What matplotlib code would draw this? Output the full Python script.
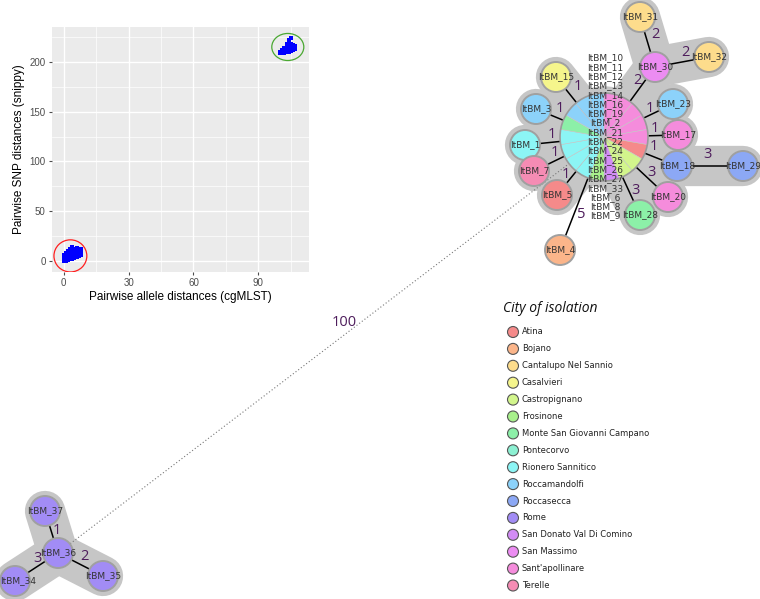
import matplotlib
matplotlib.use("Agg")
import matplotlib.pyplot as plt
from matplotlib.patches import Circle, Wedge, Ellipse

# ---- scatter inset data (pairwise distances) ----
allele_low = [0, 0, 0, 0, 0, 0, 0, 1, 1, 1, 1, 1, 1, 1, 1, 1,
              2, 2, 2, 2, 2, 2, 2, 2, 2, 2, 3, 3, 3, 3, 3, 3, 3, 3, 3, 3, 3,
              4, 4, 4, 4, 4, 4, 4, 4, 4, 4, 4, 4, 5, 5, 5, 5, 5, 5, 5, 5, 5,
              6, 6, 6, 6, 6, 6, 6, 6, 6, 7, 7, 7, 7, 7, 7, 7, 8, 8, 8, 8]
snp_low = [0, 1, 2, 3, 4, 5, 6, 0, 1, 2, 3, 4, 5, 6, 7, 8,
           1, 2, 3, 4, 5, 6, 7, 8, 9, 10, 2, 3, 4, 5, 6, 7, 8, 9, 10, 11, 12,
           2, 3, 4, 5, 6, 7, 8, 9, 10, 11, 13, 14, 3, 4, 5, 6, 7, 8, 9, 10, 12,
           4, 5, 6, 7, 8, 9, 10, 11, 13, 5, 6, 7, 8, 9, 11, 12, 6, 8, 10, 12]
allele_high = [100, 100, 101, 101, 101, 101, 102, 102, 102, 102, 102, 102,
               103, 103, 103, 103, 103, 103, 103, 103, 104, 104, 104, 104, 104, 104, 104, 104,
               105, 105, 105, 105, 105, 105, 106, 106, 106, 106, 107, 107]
snp_high = [209, 210, 209, 210, 211, 212, 209, 210, 211, 212, 213, 214,
            210, 211, 212, 213, 214, 215, 216, 218, 210, 212, 213, 214, 216, 217, 220, 222,
            211, 212, 214, 215, 218, 224, 212, 213, 215, 217, 213, 216]

# ---- minimum spanning tree data ----
cities = ["Atina", "Bojano", "Cantalupo Nel Sannio", "Casalvieri", "Castropignano",
          "Frosinone", "Monte San Giovanni Campano", "Pontecorvo", "Rionero Sannitico",
          "Roccamandolfi", "Roccasecca", "Rome", "San Donato Val Di Comino",
          "San Massimo", "Sant'apollinare", "Terelle"]
city_colors = ["#f58a8a", "#fbb58a", "#fddc8c", "#f5f58c", "#d2f58c", "#a8f08c",
               "#8cf0a8", "#8cf0d2", "#8cf5f5", "#8cd2fa", "#8ca8f5", "#a28cf5",
               "#d28cf5", "#ec8cf2", "#f58cdc", "#f58cb4"]

hub_isolates = ["ItBM_10", "ItBM_11", "ItBM_12", "ItBM_13", "ItBM_14", "ItBM_16",
                "ItBM_19", "ItBM_2", "ItBM_21", "ItBM_22", "ItBM_24", "ItBM_25",
                "ItBM_26", "ItBM_27", "ItBM_33", "ItBM_6", "ItBM_8", "ItBM_9"]
hub_slices = ["Sant'apollinare"] * 5 + ["Atina"] + ["Castropignano"] * 2 + \
             ["San Donato Val Di Comino", "Frosinone"] + ["Rionero Sannitico"] * 4 + \
             ["Monte San Giovanni Campano"] + ["Roccamandolfi"] * 3

node_city = {
    "ItBM_15": "Casalvieri", "ItBM_3": "Roccamandolfi", "ItBM_1": "Rionero Sannitico",
    "ItBM_7": "Terelle", "ItBM_5": "Atina", "ItBM_4": "Bojano",
    "ItBM_28": "Monte San Giovanni Campano", "ItBM_20": "Sant'apollinare",
    "ItBM_18": "Roccasecca", "ItBM_29": "Roccasecca", "ItBM_17": "Sant'apollinare",
    "ItBM_23": "Roccamandolfi", "ItBM_30": "San Massimo",
    "ItBM_31": "Cantalupo Nel Sannio", "ItBM_32": "Cantalupo Nel Sannio",
    "ItBM_36": "Rome", "ItBM_37": "Rome", "ItBM_34": "Rome", "ItBM_35": "Rome",
}

edges = [("hub", "ItBM_15", 1), ("hub", "ItBM_3", 1), ("hub", "ItBM_1", 1),
         ("hub", "ItBM_7", 1), ("hub", "ItBM_5", 1), ("hub", "ItBM_4", 5),
         ("hub", "ItBM_28", 3), ("hub", "ItBM_20", 3), ("hub", "ItBM_18", 1),
         ("ItBM_18", "ItBM_29", 3), ("hub", "ItBM_17", 1), ("hub", "ItBM_23", 1),
         ("hub", "ItBM_30", 2), ("ItBM_30", "ItBM_31", 2), ("ItBM_30", "ItBM_32", 2),
         ("ItBM_36", "ItBM_37", 1), ("ItBM_36", "ItBM_34", 3), ("ItBM_36", "ItBM_35", 2),
         ("hub", "ItBM_36", 100)]

# ---- layout (pixel space, y downward) ----
pos = {"hub": (604, 137), "ItBM_15": (556, 77), "ItBM_3": (536, 109),
       "ItBM_1": (525, 145), "ItBM_7": (534, 171), "ItBM_5": (557, 195),
       "ItBM_4": (560, 250), "ItBM_28": (640, 215), "ItBM_20": (668, 197),
       "ItBM_18": (677, 166), "ItBM_29": (743, 166), "ItBM_17": (678, 135),
       "ItBM_23": (673, 104), "ItBM_30": (655, 67), "ItBM_31": (640, 17),
       "ItBM_32": (709, 57), "ItBM_36": (58, 553), "ItBM_37": (45, 511),
       "ItBM_34": (15, 581), "ItBM_35": (103, 576)}
label_pos = {"ItBM_15": (578, 87), "ItBM_3": (560, 108), "ItBM_1": (552, 134),
             "ItBM_7": (555, 153), "ItBM_5": (566, 175), "ItBM_4": (581, 215),
             "ItBM_28": (635, 190), "ItBM_20": (652, 173), "ItBM_18": (654, 147),
             "ItBM_29": (707, 155), "ItBM_17": (655, 128), "ItBM_23": (650, 108),
             "ItBM_30": (637, 80), "ItBM_31": (655, 35), "ItBM_32": (685, 52),
             "ItBM_37": (57, 531), "ItBM_34": (37, 559), "ItBM_35": (84, 557),
             "ItBM_36": (344, 322)}
node_r = 15
hub_r = 44
shade_max = 3
color_of = dict(zip(cities, city_colors))

fig = plt.figure(figsize=(7.6, 5.99), dpi=100)
ax = fig.add_axes([0, 0, 1, 1])
ax.set_xlim(0, 760)
ax.set_ylim(599, 0)
ax.axis("off")

shade = "#c6c6c6"
for a, b, d in edges:
    (x1, y1), (x2, y2) = pos[a], pos[b]
    if d <= shade_max:
        ax.plot([x1, x2], [y1, y2], color=shade, lw=29, solid_capstyle="round", zorder=1)
        ax.plot([x1, x2], [y1, y2], color="black", lw=1.1, zorder=2)
    elif d < 50:
        ax.plot([x1, x2], [y1, y2], color="black", lw=1.1, zorder=2)
    else:
        ax.plot([x1, x2], [y1, y2], color="#777777", lw=0.8, ls=(0, (1, 2)), zorder=2)
    lx, ly = label_pos[b]
    ax.text(lx, ly, str(d), color="#4e1d5c", fontsize=10.5, family="Open Sans",
            ha="center", va="center", zorder=5)

# hub halo + pie
hx, hy = pos["hub"]
ax.add_patch(Circle((hx, hy), hub_r + 6, color=shade, zorder=1))
step = 360 / len(hub_slices)
for i, c in enumerate(hub_slices):
    a1 = i * step - 90
    ax.add_patch(Wedge((hx, hy), hub_r, a1, a1 + step, facecolor=color_of[c],
                       edgecolor="#c8c8c8", lw=0.4, zorder=3))
ax.add_patch(Circle((hx, hy), hub_r, fill=False, edgecolor="#9a9a9a", lw=1.2, zorder=3))
n = len(hub_isolates)
for i, name in enumerate(hub_isolates):
    ax.text(hx + 1, hy + (i - (n - 1) / 2) * 9.3, name, fontsize=6.5, color="#333333",
            ha="center", va="center", zorder=4)

for name, city in node_city.items():
    x, y = pos[name]
    ax.add_patch(Circle((x, y), node_r, facecolor=color_of[city],
                        edgecolor="#a0a0a0", lw=1.4, zorder=3))
    tx = max(x, 18)
    ax.text(tx, y, name, fontsize=6.5, color="#333333", ha="center", va="center", zorder=4)

# legend
ax.text(503, 309, "City of isolation", fontsize=10, style="italic",
        family="Open Sans", ha="left", va="center", color="#111111")
for i, (c, col) in enumerate(zip(cities, city_colors)):
    y = 332 + i * 16.9
    ax.add_patch(Circle((513, y), 5.5, facecolor=col, edgecolor="#555555", lw=0.8))
    ax.text(522, y, c, fontsize=6, color="#222222", ha="left", va="center")

# ---- scatter inset ----
ins = fig.add_axes([52 / 760, (599 - 272) / 599, 257 / 760, 245 / 599])
ins.set_facecolor("#ebebeb")
for s in ins.spines.values():
    s.set_visible(False)
ins.scatter(allele_low, snp_low, marker="s", s=5, color="#0000ff", lw=0, zorder=3)
ins.scatter(allele_high, snp_high, marker="s", s=5, color="#0000ff", lw=0, zorder=3)
ins.add_patch(Ellipse((3.1, 5.0), 15.2, 32.3, fill=False, edgecolor="#ff2020", lw=0.9, zorder=4))
ins.add_patch(Ellipse((103.6, 215.1), 14.8, 27.2, fill=False, edgecolor="#4aa832", lw=0.9, zorder=4))
ins.set_xlim(-5.4, 113.4)
ins.set_ylim(-11.2, 235.2)
ins.set_xticks([0, 30, 60, 90])
ins.set_yticks([0, 50, 100, 150, 200])
ins.set_xticks([15, 45, 75, 105], minor=True)
ins.set_yticks([25, 75, 125, 175, 225], minor=True)
ins.grid(which="major", color="white", lw=1.0, zorder=0)
ins.grid(which="minor", color="white", lw=0.5, zorder=0)
ins.set_axisbelow(True)
ins.tick_params(which="major", length=2.5, color="#4d4d4d", labelcolor="#4d4d4d",
                labelsize=7, pad=2)
ins.tick_params(which="minor", length=0)
for t in ins.get_xticklabels() + ins.get_yticklabels():
    t.set_family("Liberation Sans")
ins.set_xlabel("Pairwise allele distances (cgMLST)", fontsize=8.5, family="Liberation Sans", labelpad=2)
ins.set_ylabel("Pairwise SNP distances (snippy)", fontsize=8.5, family="Liberation Sans", labelpad=3)

fig.savefig("out.png", dpi=100)
